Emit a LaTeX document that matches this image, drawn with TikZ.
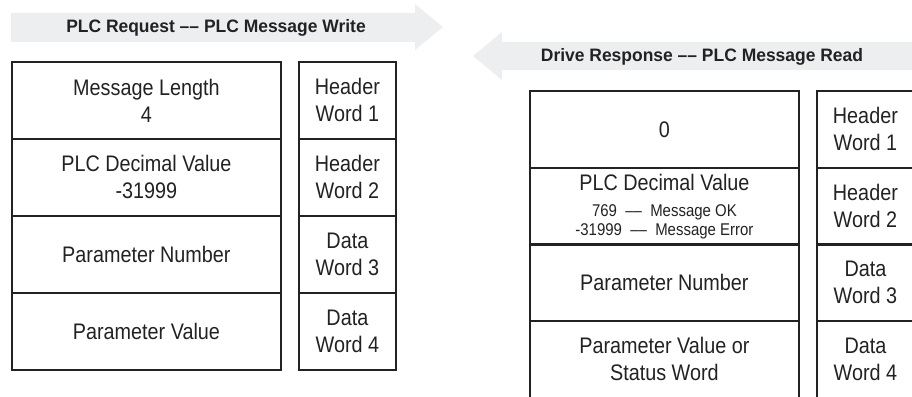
\documentclass[tikz,border=0pt]{standalone}
\usepackage{fontspec}
\setmainfont{Liberation Sans}[FakeStretch=0.88]
\newfontfamily\titlefont{Liberation Sans}[FakeStretch=0.97]
\definecolor{arrowgray}{HTML}{EDEEF0}
\definecolor{ink}{HTML}{222222}
\newcommand{\smalltxt}{\fontsize{17}{19}\selectfont}
\begin{document}
\begin{tikzpicture}[x=1pt,y=-1pt,
  cellbox/.style={draw=ink, line width=1.8pt, anchor=north west, inner sep=0pt, align=center, text=ink, font=\fontsize{22.5}{27}\selectfont},
  bigcell/.style={cellbox, minimum width=269pt, minimum height=77pt},
  sidecell/.style={cellbox, minimum width=97pt, minimum height=77pt},
  title/.style={text=ink, font=\titlefont\fontsize{18}{22}\selectfont\bfseries},
  bandarrow/.style={fill=arrowgray, draw=none}]
\useasboundingbox (0,0) rectangle (912,396);
\begin{scope}
\clip (0,0) rectangle (912,396);
% arrows
\fill[bandarrow] (11,13) -- (415,13) -- (415,4) -- (443,27) -- (415,50) -- (415,42) -- (11,42) -- cycle;
\fill[bandarrow] (920,42) -- (502,42) -- (502,32) -- (473,56) -- (502,80) -- (502,70) -- (920,70) -- cycle;
\node[title] (t1) at (216,28) {PLC Request –– PLC Message Write};
\node[title] (t2) at (702,57) {Drive Response –– PLC Message Read};
% left stack
\node[bigcell] (l1) at (11,61) {Message Length\\4};
\node[bigcell] (l2) at (11,138) {PLC Decimal Value\\-31999};
\node[bigcell] (l3) at (11,215) {Parameter Number};
\node[bigcell] (l4) at (11,292) {Parameter Value};
\node[sidecell] (s1) at (298,61) {Header\\Word 1};
\node[sidecell] (s2) at (298,138) {Header\\Word 2};
\node[sidecell] (s3) at (298,215) {Data\\Word 3};
\node[sidecell] (s4) at (298,292) {Data\\Word 4};
% right stack
\node[bigcell] (r1) at (529,90) {0};
\node[bigcell] (r2) at (529,167) {PLC Decimal Value\\[-1pt]{\smalltxt 769 \ ––\ \ Message OK}\\[-8pt]{\smalltxt -31999 \ ––\ \ Message Error}};
\node[bigcell] (r3) at (529,243) {Parameter Number};
\node[bigcell] (r4) at (529,320) {Parameter Value or\\Status Word};
\node[sidecell] (q1) at (816,90) {Header\\Word 1};
\node[sidecell] (q2) at (816,167) {Header\\Word 2};
\node[sidecell] (q3) at (816,243) {Data\\Word 3};
\node[sidecell] (q4) at (816,320) {Data\\Word 4};
\end{scope}
\end{tikzpicture}
\end{document}
